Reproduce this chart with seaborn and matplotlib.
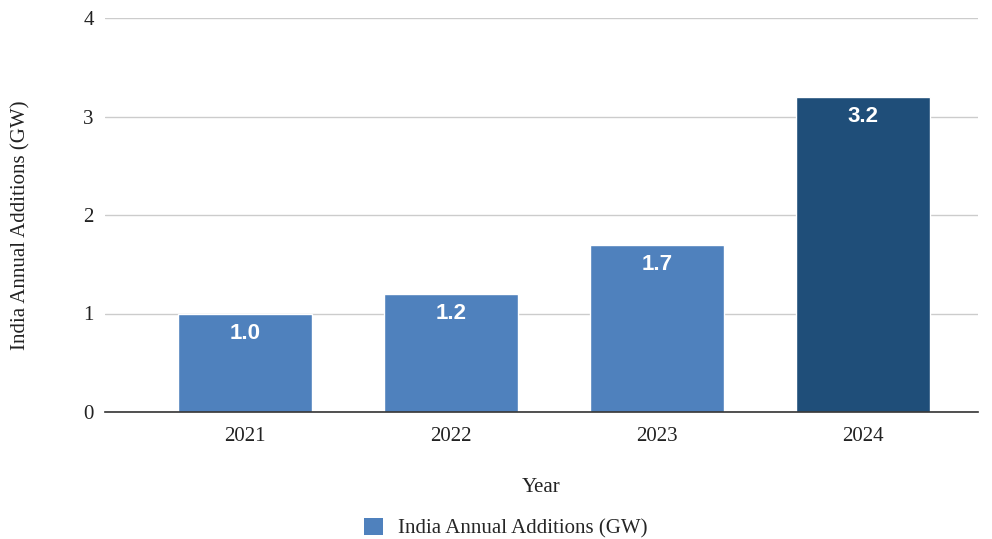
import matplotlib
matplotlib.use("Agg")
import matplotlib.pyplot as plt
import seaborn as sns
import pandas as pd
from matplotlib.patches import Patch

years = ["2021", "2022", "2023", "2024"]
additions_gw = [1.0, 1.2, 1.7, 3.2]
bar_colors = ["#4f81bd", "#4f81bd", "#4f81bd", "#1f4e79"]
series_name = "India Annual Additions (GW)"

df = pd.DataFrame({"Year": years, "GW": additions_gw})

sns.set_theme(style="white")
plt.rcParams["font.family"] = ["Liberation Serif", "DejaVu Serif"]

fig = plt.figure(figsize=(9.92, 5.39), dpi=100)
ax = fig.add_axes([105 / 992, 1 - 412 / 539, (978 - 105) / 992, (412 - 18) / 539])

sns.barplot(data=df, x="Year", y="GW", hue="Year", palette=bar_colors,
            legend=False, width=0.65, saturation=1, ax=ax, zorder=3)

ax.set_ylim(0, 4)
ax.set_xlim(-0.68, 3.56)
ax.set_yticks([0, 1, 2, 3, 4])
ax.yaxis.grid(True, color="#cccccc", linewidth=1, zorder=0)
ax.set_axisbelow(True)
for s in ["top", "right", "left"]:
    ax.spines[s].set_visible(False)
ax.spines["bottom"].set_color("#333333")
ax.spines["bottom"].set_linewidth(1.2)
ax.spines["bottom"].set_zorder(4)
ax.tick_params(axis="both", length=0, labelsize=15, colors="#222222")
ax.tick_params(axis="x", pad=11)
ax.tick_params(axis="y", pad=8)

ax.set_xlabel("Year", fontsize=15, color="#222222", labelpad=23)
ax.set_ylabel(series_name, fontsize=15, color="#222222")
ax.yaxis.set_label_coords(-0.0848, 0.475)

for patch, val in zip(ax.patches, additions_gw):
    x = patch.get_x() + patch.get_width() / 2
    ax.annotate(f"{val:.1f}", xy=(x, val), xytext=(0, -20), textcoords="offset pixels",
                ha="center", va="center", color="white", fontsize=16,
                fontweight="bold", family=["Liberation Sans", "DejaVu Sans"], zorder=5)

handle = Patch(facecolor="#4f81bd", edgecolor="none")
fig.legend([handle], [series_name], loc="center", bbox_to_anchor=(0.5096, 1 - 528 / 539),
           frameon=False, fontsize=15, handlelength=0.91, handleheight=0.91,
           handletextpad=0.72)

fig.savefig("out.png", dpi=100)
